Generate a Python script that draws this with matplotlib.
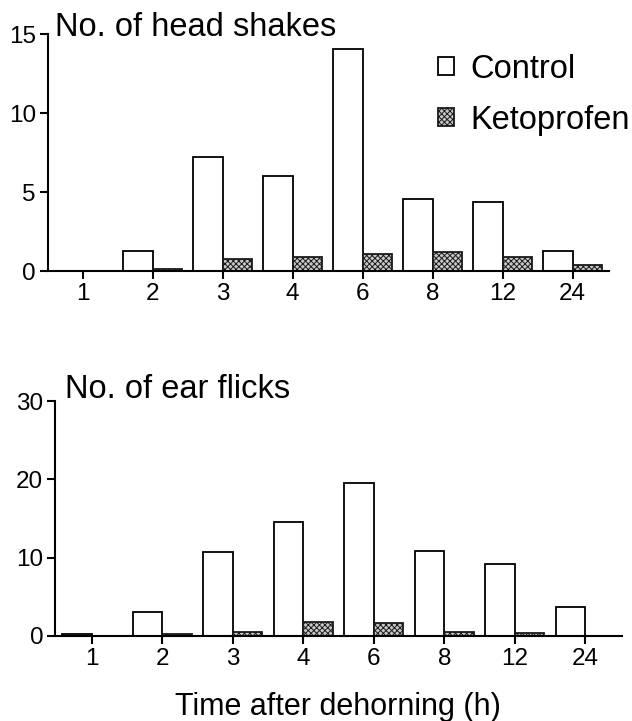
import matplotlib
matplotlib.use("Agg")
import matplotlib.pyplot as plt
import numpy as np

plt.rcParams["font.family"] = ["Liberation Sans", "DejaVu Sans"]
plt.rcParams["hatch.linewidth"] = 0.7

# data
hours = ["1", "2", "3", "4", "6", "8", "12", "24"]
shakes_control = [0, 1.3, 7.2, 6.05, 14.05, 4.57, 4.4, 1.27]
shakes_keto = [0, 0.1, 0.75, 0.9, 1.1, 1.2, 0.92, 0.4]
flicks_control = [0.2, 3.0, 10.7, 14.6, 19.5, 10.9, 9.2, 3.74]
flicks_keto = [0, 0.2, 0.5, 1.8, 1.6, 0.5, 0.4, 0]

W = 0.42


def draw_panel(ax, control, keto, ymax, step, xlim):
    x = np.arange(len(hours))
    b1 = ax.bar(x - W / 2, control, W, color="white", edgecolor="black",
                linewidth=1.3, label="Control", zorder=2)
    b2 = ax.bar(x + W / 2, keto, W, color="#c8c8c8", edgecolor="#1a1a1a",
                linewidth=1.3, hatch="xxxxxx", label="Ketoprofen", zorder=2)
    ax.set_xlim(*xlim)
    ax.set_ylim(0, ymax)
    ax.set_xticks(x)
    ax.set_xticklabels(hours)
    ax.set_yticks(np.arange(0, ymax + 1, step))
    for s in ["top", "right"]:
        ax.spines[s].set_visible(False)
    for s in ["left", "bottom"]:
        ax.spines[s].set_linewidth(1.5)
        ax.spines[s].set_zorder(3)
    ax.tick_params(axis="both", labelsize=17.5, width=1.5, length=5.5,
                   pad=3, direction="out")
    ax.patch.set_visible(False)
    return b1, b2


fig = plt.figure(figsize=(6.32, 7.21), dpi=100)

ax1 = fig.add_axes([0.0755, 0.6241, 0.888, 0.3281])
b1, b2 = draw_panel(ax1, shakes_control, shakes_keto, 15, 5, (-0.5, 7.52))
fig.text(55 / 632, 1 - 36 / 721, "No. of head shakes", fontsize=23.5,
         va="baseline", ha="left")
fig.legend(handles=[b1, b2], loc="upper left",
           bbox_to_anchor=(438 / 632, 1 - 54 / 721), frameon=False,
           fontsize=23.5, handlelength=0.48, handleheight=0.48,
           handletextpad=0.5, labelspacing=0.6, borderpad=0,
           borderaxespad=0)

ax2 = fig.add_axes([0.087, 0.1179, 0.897, 0.3259])
draw_panel(ax2, flicks_control, flicks_keto, 30, 10, (-0.52, 7.52))
fig.text(65 / 632, 1 - 397.7 / 721, "No. of ear flicks", fontsize=23.5,
         va="baseline", ha="left")
ax2.set_xlabel("Time after dehorning (h)", fontsize=22, labelpad=16)

fig.savefig("out.png", dpi=100)
